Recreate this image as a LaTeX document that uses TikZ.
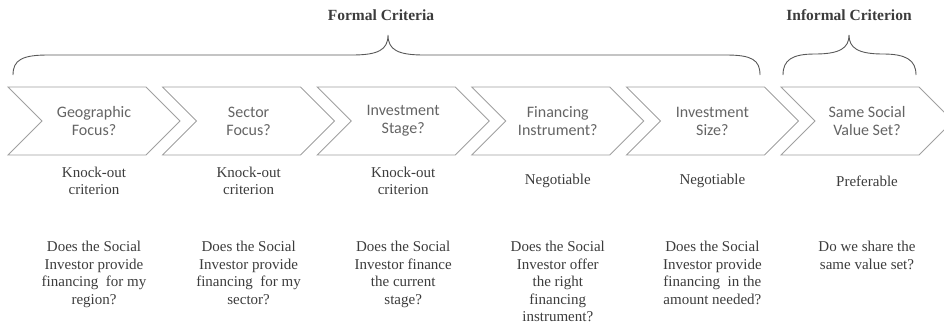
\documentclass[tikz,border=0pt]{standalone}
\usepackage{fontspec}
\setmainfont{Liberation Serif}
\newfontfamily\chevfont{Carlito}
\usetikzlibrary{positioning,shapes.symbols}
\definecolor{chevgray}{RGB}{160,160,160}
\definecolor{chevtext}{RGB}{100,100,100}
\definecolor{textgray}{RGB}{60,60,60}

\begin{document}
\begin{tikzpicture}[x=1pt,y=-1pt,
    chev/.style={signal,signal from=west,signal to=east,draw=chevgray,line width=0.9pt,
      minimum width=172pt,minimum height=68pt,inner sep=0pt,align=center,
      font=\chevfont\fontsize{16}{18}\selectfont,text=chevtext},
    status/.style={align=center,font=\rmfamily\fontsize{15}{17.5}\selectfont,text=textgray},
    question/.style={status,anchor=north},
    header/.style={font=\rmfamily\bfseries\fontsize{15.5}{18}\selectfont,text=textgray},
    bracepath/.style={draw=textgray!85,line width=0.9pt}]
  \useasboundingbox (0,0) rectangle (944,327);

  % the six criteria
  \foreach \lbl/\st/\q [count=\n from 0] in {
      {Geographic\\Focus?}/{Knock-out\\criterion}/{Does the Social\\Investor provide\\financing\ \ for my\\region?},
      {Sector\\Focus?}/{Knock-out\\criterion}/{Does the Social\\Investor provide\\financing\ \ for my\\sector?},
      {Investment\\Stage?}/{Knock-out\\criterion}/{Does the Social\\Investor finance\\the current\\stage?},
      {Financing\\Instrument?}/{Negotiable}/{Does the Social\\Investor offer\\the right\\financing\\instrument?},
      {Investment\\Size?}/{Negotiable}/{Does the Social\\Investor provide\\financing\ \ in the\\amount needed?},
      {Same Social\\Value Set?}/{Preferable}/{Do we share the\\same value set?}}{
    \node[chev] (chev\n) at (94+154.6*\n,121) {\lbl};
    \node[status] (stat\n) at (94+154.6*\n,181) {\st};
    \node[question] (ques\n) at (94+154.6*\n,238) {\q};
  }

  % braces
  \node[header] (formal) at (381,15) {Formal Criteria};
  \node[header] (informal) at (849,15) {Informal Criterion};
  \draw[bracepath] (13,75) .. controls (13,60) and (22,55) .. (48,55) -- (352,55)
    .. controls (378,55) and (388,50) .. (388,35)
    .. controls (388,50) and (398,55) .. (424,55) -- (726,55)
    .. controls (752,55) and (760,60) .. (760,75);
  \draw[bracepath] (783,75) .. controls (783,60) and (792,54) .. (815,54)
    .. controls (840,54) and (849,48) .. (849,35)
    .. controls (849,48) and (858,54) .. (883,54)
    .. controls (906,54) and (916,60) .. (916,75);
\end{tikzpicture}
\end{document}
